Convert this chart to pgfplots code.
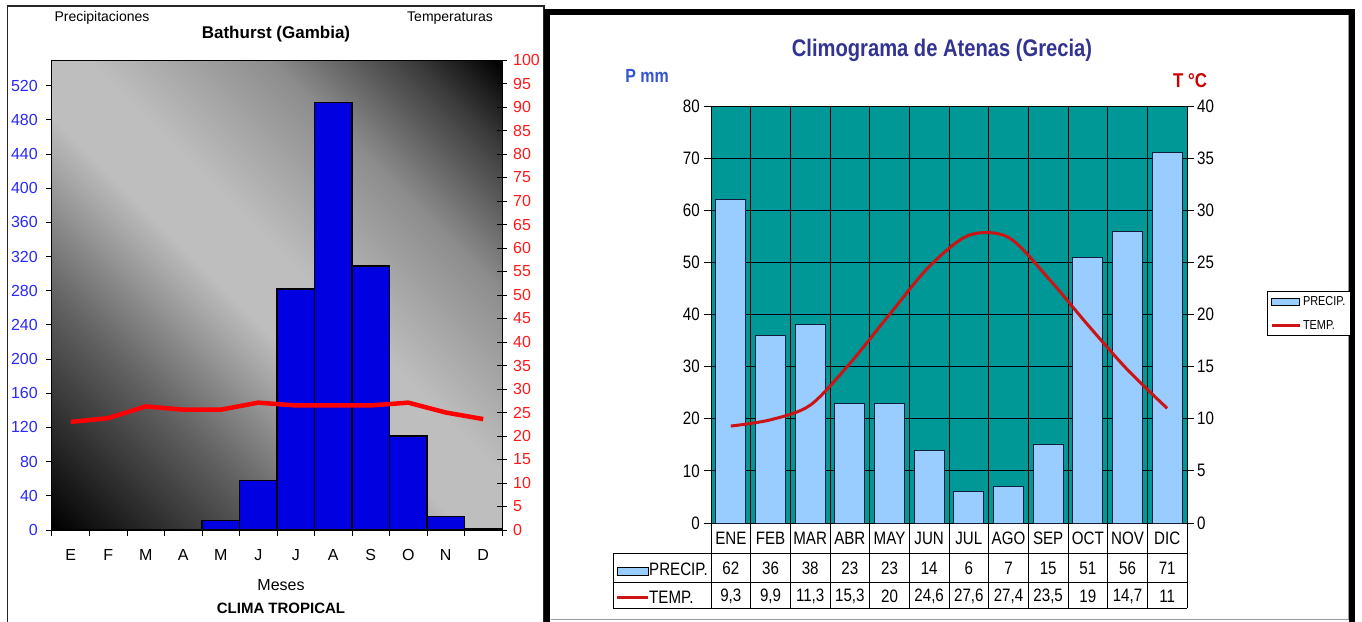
\documentclass[border=0pt]{standalone}
\usepackage{fontspec}
\setmainfont{Liberation Sans}
\newfontfamily\narrow[FakeStretch=0.84]{Liberation Sans}
\usepackage{pgfplots}
\usepackage{pgfplotstable}
\pgfplotsset{compat=1.18}
\newcommand\fs[1]{\fontsize{#1}{#1}\selectfont}
\definecolor{lgray}{RGB}{196,196,196}
\definecolor{gA}{RGB}{96,96,96}
\definecolor{gB}{RGB}{190,190,190}
\definecolor{gC}{RGB}{140,140,140}
\definecolor{gD}{RGB}{62,62,62}
\definecolor{tblue}{RGB}{40,40,255}
\definecolor{tred}{RGB}{255,25,25}
\definecolor{barblue}{RGB}{0,0,225}
\definecolor{tealbg}{RGB}{0,152,150}
\definecolor{lblue}{RGB}{153,204,255}
\definecolor{dred}{RGB}{204,20,20}
\definecolor{titleblue}{RGB}{51,51,145}
\definecolor{pblue}{RGB}{51,85,210}
\definecolor{pred}{RGB}{204,0,0}
\pgfdeclareverticalshading{bgdiag}{100bp}{color(0bp)=(black); color(14.6bp)=(black); color(32.3bp)=(gA); color(46.5bp)=(gB); color(53.5bp)=(gB); color(67.7bp)=(gC); color(78.3bp)=(gD); color(85.4bp)=(black); color(100bp)=(black)}

\pgfplotstableread{
x p t
0 0 23.0
1 1 23.8
2 0 26.3
3 0 25.6
4 11 25.6
5 58 27.1
6 282 26.5
7 500 26.5
8 309 26.5
9 110 27.1
10 16 25.0
11 2 23.6
}\bat

\pgfplotstableread{
x p t
0 62 9.3
1 36 9.9
2 38 11.3
3 23 15.3
4 23 20
5 14 24.6
6 6 27.6
7 7 27.4
8 15 23.5
9 51 19
10 56 14.7
11 71 11
}\ath

\begin{document}
\begin{tikzpicture}[x=1pt,y=-1pt]
\useasboundingbox (0,0) rectangle (1362,621);
\fill[white] (0,0) rectangle (1362,621);

% ---------------- left chart ----------------
\draw[line width=1.5pt, black!85] (7.5,630) -- (7.5,6) -- (544,6) -- (544,630);
\node[font=\fs{14}] at (102,18) {Precipitaciones};
\node[font=\fs{14}] at (450,18) {Temperaturas};
\node[font=\bfseries\fs{17}] at (276,34) {Bathurst (Gambia)};
\node[font=\fs{16}] at (281,585) {Meses};
\node[font=\bfseries\fs{15}] at (281,608) {CLIMA TROPICAL};

\begin{axis}[
  at={(52pt,-530pt)}, anchor=south west, scale only axis,
  width=450pt, height=470pt,
  xmin=-0.5, xmax=11.5, ymin=0, ymax=550,
  axis background/.style={shading=bgdiag, shading angle=-45},
  xtick={-0.5,0.5,...,11.5}, x tick label as interval,
  xticklabels={E,F,M,A,M,J,J,A,S,O,N,D},
  ytick={0,40,...,520},
  xtick pos=bottom, ytick pos=left,
  tick align=outside, major tick length=6pt,
  axis line style={black, line width=1pt},
  tick style={black, line width=1pt},
  /pgf/number format/assume math mode=true,
  ticklabel style={font=\fs{16}},
  yticklabel style={text=tblue, inner sep=0pt, anchor=east, xshift=-8pt},
  xticklabel style={inner sep=0pt, anchor=center, yshift=-19pt},
]
\addplot[ybar, bar width=1, draw=black, line width=1.2pt, fill=barblue]
  table[x=x, y=p] {\bat};
\end{axis}

\begin{axis}[
  at={(52pt,-530pt)}, anchor=south west, scale only axis,
  width=450pt, height=470pt,
  xmin=-0.5, xmax=11.5, ymin=0, ymax=100,
  axis x line=none, axis y line*=right,
  ytick={0,5,...,100},
  tick align=center, major tick length=10pt,
  axis line style={black, line width=1pt},
  tick style={black, line width=1pt},
  /pgf/number format/assume math mode=true,
  ticklabel style={font=\fs{16}},
  yticklabel style={text=tred, inner sep=0pt, anchor=west, xshift=6pt},
]
\addplot[red, line width=4.5pt, line join=round] table[x=x, y=t] {\bat};
\end{axis}

% ---------------- right chart ----------------
\draw[line width=6pt, line join=miter] (547,630) -- (547,12) -- (1352,12) -- (1352,630);
\draw[black!40, line width=0.8pt] (551,619) -- (1348,619) -- (1348,15);
\node[font=\narrow\bfseries\fs{24}, text=titleblue] at (942,50) {Climograma de Atenas (Grecia)};
\node[font=\narrow\bfseries\fs{19}, text=pblue] at (647,76) {P mm};
\node[font=\narrow\bfseries\fs{20}, text=pred] at (1190,81) {T °C};

\begin{axis}[
  at={(711pt,-523pt)}, anchor=south west, scale only axis,
  width=476pt, height=417pt,
  xmin=-0.5, xmax=11.5, ymin=0, ymax=80,
  clip=false,
  axis background/.style={fill=tealbg},
  xtick={-0.5,0.5,...,11.5}, x tick label as interval,
  xticklabels={ENE,FEB,MAR,ABR,MAY,JUN,JUL,AGO,SEP,OCT,NOV,DIC},
  ytick={0,10,...,80},
  xmajorgrids, ymajorgrids,
  grid style={black, line width=0.9pt},
  xtick pos=bottom, ytick pos=left,
  tick align=outside, major tick length=7pt,
  axis line style={black, line width=1pt},
  tick style={black, line width=1pt},
  /pgf/number format/assume math mode=true,
  /pgf/number format/use comma,
  ticklabel style={font=\narrow\fs{18}},
  yticklabel style={inner sep=0pt, anchor=east, xshift=-4pt},
  xticklabel style={inner sep=0pt, anchor=center, yshift=-8pt},
]
\addplot[ybar, bar width=0.756, fill=lblue, draw={rgb,255:red,20;green,30;blue,60}, line width=0.9pt]
  table[x=x, y=p] {\ath};
\addplot[draw=none, mark=none, forget plot, nodes near coords, point meta=explicit,
  every node near coord/.append style={font=\narrow\fs{18}, anchor=center, inner sep=0pt}]
  table[x=x, y expr=-8.63, meta=p] {\ath};
\addplot[draw=none, mark=none, forget plot, nodes near coords, point meta=explicit,
  every node near coord/.append style={font=\narrow\fs{18}, anchor=center, inner sep=0pt}]
  table[x=x, y expr=-14.1, meta=t] {\ath};
\end{axis}

\begin{axis}[
  at={(711pt,-523pt)}, anchor=south west, scale only axis,
  width=476pt, height=417pt,
  xmin=-0.5, xmax=11.5, ymin=0, ymax=40,
  axis x line=none, axis y line*=right,
  ytick={0,5,...,40},
  tick align=outside, major tick length=7pt,
  axis line style={black, line width=1pt},
  tick style={black, line width=1pt},
  /pgf/number format/assume math mode=true,
  ticklabel style={font=\narrow\fs{18}},
  yticklabel style={inner sep=0pt, anchor=west, xshift=3pt},
  legend style={at={(1.167,0.556)}, anchor=north west, draw=black, line width=1pt,
    font=\narrow\fs{13}, inner sep=3pt, row sep=9pt},
  legend cell align=left,
]
\addlegendimage{legend image code/.code={\draw[fill=lblue, draw=black, line width=0.8pt] (0pt,-3.5pt) rectangle (28pt,3.5pt);}}
\addlegendentry{PRECIP.}
\addplot[dred, line width=3pt, smooth, tension=0.5,
  legend image code/.code={\draw[dred, line width=3pt] (0pt,0pt) -- (28pt,0pt);}]
  table[x=x, y=t] {\ath};
\addlegendentry{TEMP.}
\end{axis}

% data table frame under the right chart
\foreach \i in {0,...,12} {
  \draw[black, line width=1pt] ({711+39.667*\i},523) -- ({711+39.667*\i},608);
}
\draw[black, line width=1pt] (613,553) -- (1187,553);
\draw[black, line width=1pt] (613,582) -- (1187,582);
\draw[black, line width=1pt] (613,608) -- (1187,608);
\draw[black, line width=1pt] (613,553) -- (613,608);
\draw[fill=lblue, draw=black, line width=0.8pt] (617,567) rectangle (648,575);
\node[font=\narrow\fs{18}, anchor=west, inner sep=0pt] at (649,569) {PRECIP.};
\draw[dred, line width=3pt] (617,597) -- (648,597);
\node[font=\narrow\fs{18}, anchor=west, inner sep=0pt] at (649,597) {TEMP.};
\end{tikzpicture}
\end{document}
